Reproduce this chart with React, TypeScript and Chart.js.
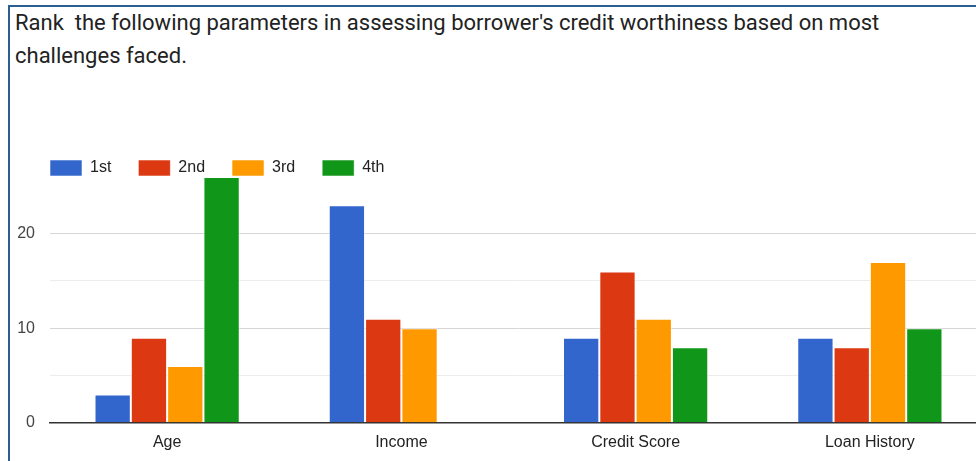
import React, { useEffect, useRef } from "react";
import { Chart, registerables } from "chart.js";

Chart.register(...registerables);

const categories = ["Age", "Income", "Credit Score", "Loan History"];
const seriesNames = ["1st", "2nd", "3rd", "4th"];
const first = [3, 23, 9, 9];
const second = [9, 11, 16, 8];
const third = [6, 10, 11, 17];
const fourth = [26, 0, 8, 10];
const colors = ["#3366cc", "#dc3912", "#ff9900", "#109618"];
const yLabels = [0, 10, 20];
const titleLines = [
  "Rank  the following parameters in assessing borrower's credit worthiness based on most",
  "challenges faced.",
];

const FONT = "'Liberation Sans', Arial, sans-serif";

const legendShift = {
  id: "legendShift",
  afterLayout(chart: any) {
    if (chart.legend) {
      chart.legend.left += 23;
      chart.legend.right += 23;
    }
  },
};

export default function App() {
  const ref = useRef<HTMLCanvasElement | null>(null);

  useEffect(() => {
    if (!ref.current) return;
    const values = [first, second, third, fourth];
    const chart = new Chart(ref.current, {
      type: "bar",
      data: {
        labels: categories,
        datasets: seriesNames.map((name, i) => ({
          label: name,
          data: values[i],
          backgroundColor: colors[i],
          borderColor: "rgba(255,255,255,0.55)",
          borderWidth: 1,
          borderSkipped: "bottom",
          categoryPercentage: 0.62,
          barPercentage: 1,
        })),
      },
      plugins: [legendShift],
      options: {
        responsive: false,
        animation: false,
        layout: { padding: { left: 0, top: 13, bottom: 7, right: 0 } },
        plugins: {
          tooltip: { enabled: false },
          legend: {
            position: "top",
            align: "start",
            maxHeight: 44,
            labels: {
              boxWidth: 32,
              boxHeight: 16,
              padding: 27,
              color: "#222222",
              font: { family: FONT, size: 16 },
            },
          },
        },
        scales: {
          x: {
            grid: { display: false },
            border: { display: true, color: "#333333", width: 1.5 },
            ticks: {
              color: "#222222",
              padding: 2,
              font: { family: FONT, size: 16 },
            },
          },
          y: {
            min: 0,
            max: 26,
            afterFit: (s: any) => {
              s.width = 50;
            },
            afterBuildTicks: (s: any) => {
              s.ticks = s.ticks.filter((t: any) => t.value % 5 === 0);
            },
            border: { display: false },
            grid: {
              drawTicks: false,
              color: (ctx: any) => {
                const v = ctx.tick ? ctx.tick.value : 0;
                if (v === 0) return "#333333";
                return v % 10 === 0 ? "#d6d6d6" : "#ececec";
              },
              lineWidth: 1,
            },
            ticks: {
              stepSize: 5,
              padding: 15,
              color: "#444444",
              font: { family: FONT, size: 16 },
              callback: (v: any) => (yLabels.includes(Number(v)) ? String(v) : ""),
            },
          },
        },
      },
    });
    return () => chart.destroy();
  }, []);

  return (
    <div
      style={{
        position: "absolute",
        left: 0,
        top: 0,
        width: 976,
        height: 461,
        overflow: "hidden",
        background: "#ffffff",
      }}
    >
      <div
        style={{
          position: "absolute",
          left: 8,
          top: 6,
          width: 2,
          height: 455,
          background: "#2b5f94",
        }}
      />
      <div
        style={{
          position: "absolute",
          left: 8,
          top: 5,
          width: 968,
          height: 2,
          background: "#2b5f94",
        }}
      />
      <div
        style={{
          position: "absolute",
          left: 15,
          top: 6,
          fontFamily: "Roboto",
          fontSize: 22,
          lineHeight: "33px",
          color: "#222222",
          whiteSpace: "pre",
        }}
      >
        {titleLines[0]}
        <br />
        {titleLines[1]}
      </div>
      <canvas
        ref={ref}
        width={987}
        height={341}
        style={{ position: "absolute", left: 0, top: 120, width: 987, height: 341 }}
      />
    </div>
  );
}
